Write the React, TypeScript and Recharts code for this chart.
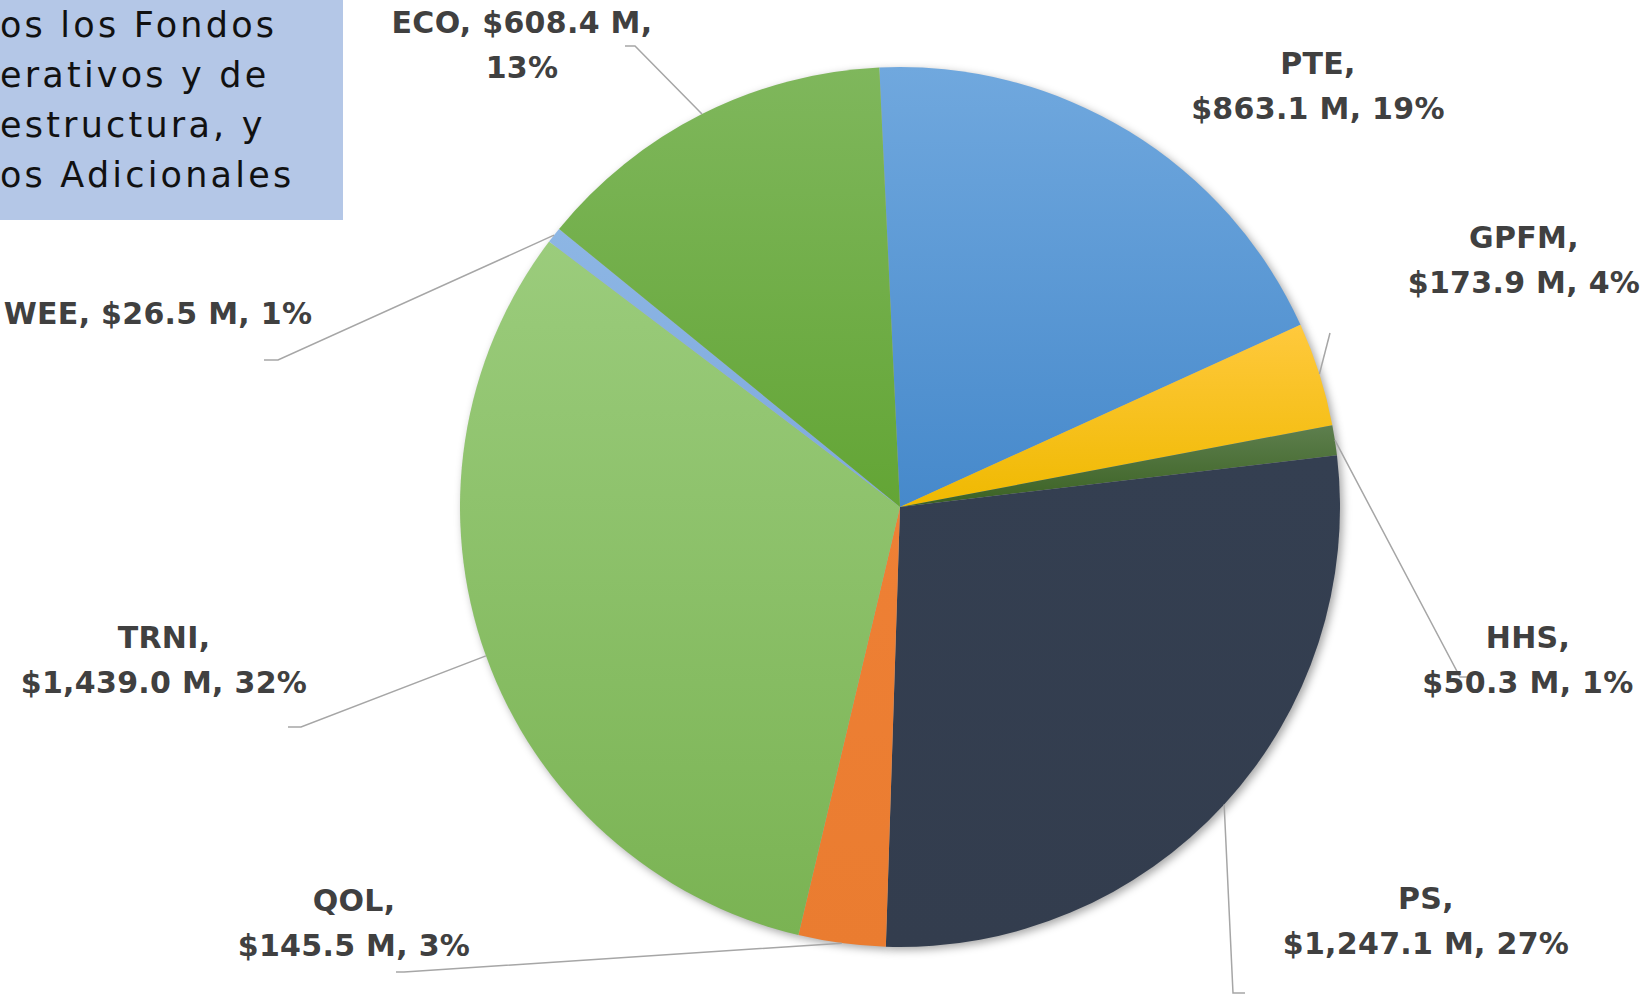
import React from 'react';
import { PieChart, Pie, Cell } from 'recharts';

// fondos, en millones de dólares, en el orden del gráfico (sentido horario desde arriba)
const categories = ['PTE', 'GPFM', 'HHS', 'PS', 'QOL', 'TRNI', 'WEE', 'ECO'];
const amounts = [863.1, 173.9, 50.3, 1247.1, 145.5, 1439.0, 26.5, 608.4];
const titleLines = ['os los Fondos', 'erativos y de', 'estructura, y', 'os Adicionales'];

// top / bottom colours of each slice's gradient
const colorsTop = ['#70A8DE', '#FFC93D', '#5E7F4E', '#343F51', '#EE8035', '#9BCC7C', '#8DB6E4', '#7FB75C'];
const colorsBottom = ['#4689CB', '#EFB900', '#3A6122', '#333D4E', '#EA7C30', '#7AB353', '#7EA9DD', '#63A535'];

// label placement (label centre, first line y, leader elbow and end)
const labelLayout = [
  { x: 1318, y: 63, lines: 2, elbow: null, end: null },
  { x: 1524, y: 237, lines: 2, elbow: [1330, 333], end: null },
  { x: 1528, y: 637, lines: 2, elbow: [1460, 677], end: [1468, 677] },
  { x: 1426, y: 898, lines: 2, elbow: [1233, 993], end: [1245, 993] },
  { x: 354, y: 900, lines: 2, elbow: [404, 972], end: [396, 972] },
  { x: 164, y: 637, lines: 2, elbow: [301, 727], end: [288, 727] },
  { x: 158, y: 313, lines: 1, elbow: [278, 360], end: [264, 360] },
  { x: 522, y: 22, lines: 3, elbow: [635, 46], end: [625, 46] },
];

const total = amounts.reduce((a, b) => a + b, 0);
const data = categories.map((name, i) => ({ name, value: amounts[i] }));

const fmt = (v: number) =>
  '$' + v.toLocaleString('en-US', { minimumFractionDigits: 1, maximumFractionDigits: 1 }) + ' M';

const RAD = Math.PI / 180;
const LINE_H = 45;
const FONT = '"DejaVu Sans", sans-serif';

const renderLabel = (props: any) => {
  const { cx, cy, midAngle, outerRadius, index } = props;
  const lay = labelLayout[index];
  const name = categories[index];
  const pct = Math.round((amounts[index] / total) * 100) + '%';
  const money = fmt(amounts[index]);
  let lines: string[];
  if (lay.lines === 1) lines = [`${name}, ${money}, ${pct}`];
  else if (lay.lines === 3) lines = [`${name}, ${money},`, pct];
  else lines = [`${name},`, `${money}, ${pct}`];

  const sx = cx + outerRadius * Math.cos(-midAngle * RAD);
  const sy = cy + outerRadius * Math.sin(-midAngle * RAD);
  let path = '';
  if (lay.elbow) {
    path = `M${sx},${sy} L${lay.elbow[0]},${lay.elbow[1]}`;
    if (lay.end) path += ` L${lay.end[0]},${lay.end[1]}`;
  }

  return (
    <g key={`lbl-${index}`}>
      {path && <path d={path} stroke="#A6A6A6" strokeWidth={1.5} fill="none" />}
      {lines.map((t, j) => (
        <text
          key={j}
          x={lay.x}
          y={lay.y + j * LINE_H}
          textAnchor="middle"
          dominantBaseline="central"
          fill="#404040"
          fontFamily={FONT}
          fontWeight="bold"
          fontSize={30}
          letterSpacing={0.3}
        >
          {t}
        </text>
      ))}
    </g>
  );
};

export default function App() {
  return (
    <div style={{ position: 'absolute', left: 0, top: 0, width: 1644, height: 994, background: '#fff' }}>
      <svg width={0} height={0} style={{ position: 'absolute' }}>
        <defs>
          {categories.map((c, i) => (
            <linearGradient key={c} id={`grad-${c}`} x1="0" y1="0" x2="0" y2="1">
              <stop offset="0%" stopColor={colorsTop[i]} />
              <stop offset="100%" stopColor={colorsBottom[i]} />
            </linearGradient>
          ))}
          <filter id="pieShadow" x="-20%" y="-20%" width="140%" height="140%">
            <feGaussianBlur stdDeviation="4" />
          </filter>
        </defs>
      </svg>

      <div
        style={{
          position: 'absolute',
          left: 0,
          top: 0,
          width: 343,
          height: 220,
          background: '#B4C7E7',
          fontFamily: FONT,
          fontSize: 35,
          letterSpacing: 3.2,
          lineHeight: '50px',
          color: '#111',
          whiteSpace: 'nowrap',
          overflow: 'hidden',
        }}
      >
        {titleLines.map((t) => (
          <div key={t}>{t}</div>
        ))}
      </div>

      <PieChart width={1644} height={994} margin={{ top: 0, right: 0, bottom: 0, left: 0 }}>
        <Pie
          data={data}
          dataKey="value"
          cx={903}
          cy={510}
          outerRadius={440}
          startAngle={92.7}
          endAngle={-267.3}
          stroke="none"
          fill="#000"
          fillOpacity={0.35}
          style={{ filter: 'url(#pieShadow)' }}
          isAnimationActive={false}
          label={false}
          labelLine={false}
        />
        <Pie
          data={data}
          dataKey="value"
          cx={900}
          cy={507}
          outerRadius={440}
          startAngle={92.7}
          endAngle={-267.3}
          stroke="none"
          isAnimationActive={false}
          label={renderLabel}
          labelLine={false}
        >
          {categories.map((c) => (
            <Cell key={c} fill={`url(#grad-${c})`} />
          ))}
        </Pie>
      </PieChart>
    </div>
  );
}
